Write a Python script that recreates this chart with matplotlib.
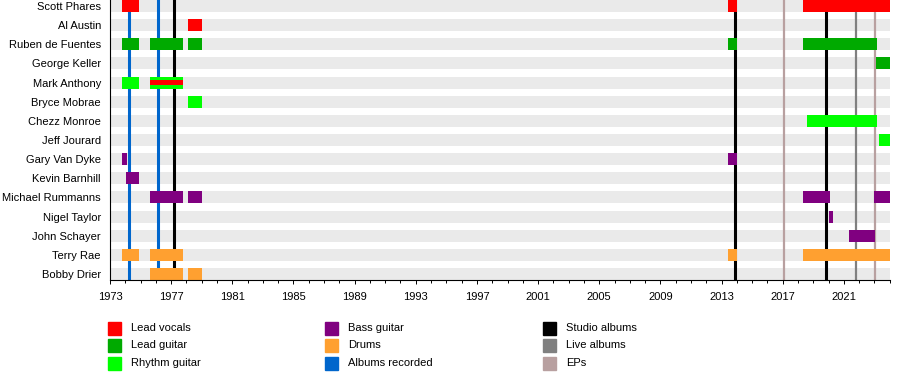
import matplotlib
matplotlib.use("Agg")
import matplotlib.pyplot as plt
from matplotlib.patches import Rectangle

plt.rcParams['font.family'] = ['Liberation Sans', 'DejaVu Sans']

members = ["Scott Phares", "Al Austin", "Ruben de Fuentes", "George Keller",
           "Mark Anthony", "Bryce Mobrae", "Chezz Monroe", "Jeff Jourard",
           "Gary Van Dyke", "Kevin Barnhill", "Michael Rummanns", "Nigel Taylor",
           "John Schayer", "Terry Rae", "Bobby Drier"]

start_year = 1973
end_year = 2024.05

# (member, start, end)
lead_vocals = [("Scott Phares", 1973.78, 1974.88), ("Scott Phares", 2013.44, 2014.03),
               ("Scott Phares", 2018.34, end_year), ("Al Austin", 1978.12, 1979.02)]
lead_guitar = [("Ruben de Fuentes", 1973.78, 1974.88), ("Ruben de Fuentes", 1975.62, 1977.75),
               ("Ruben de Fuentes", 1978.12, 1979.02), ("Ruben de Fuentes", 2013.44, 2014.03),
               ("Ruben de Fuentes", 2018.34, 2023.14), ("George Keller", 2023.10, end_year)]
rhythm_guitar = [("Mark Anthony", 1973.78, 1974.88), ("Mark Anthony", 1975.62, 1977.75),
                 ("Bryce Mobrae", 1978.12, 1979.02), ("Chezz Monroe", 2018.56, 2023.14),
                 ("Jeff Jourard", 2023.29, end_year)]
bass_guitar = [("Gary Van Dyke", 1973.78, 1974.11), ("Gary Van Dyke", 2013.44, 2014.03),
               ("Kevin Barnhill", 1974.05, 1974.88), ("Michael Rummanns", 1975.62, 1977.75),
               ("Michael Rummanns", 1978.12, 1979.02), ("Michael Rummanns", 2018.34, 2020.10),
               ("Michael Rummanns", 2022.97, end_year), ("Nigel Taylor", 2020.04, 2020.30),
               ("John Schayer", 2021.35, 2023.03)]
drums = [("Terry Rae", 1973.78, 1974.88), ("Terry Rae", 1975.62, 1977.75),
         ("Terry Rae", 2013.44, 2014.03), ("Terry Rae", 2018.34, end_year),
         ("Bobby Drier", 1975.62, 1977.75), ("Bobby Drier", 1978.12, 1979.02)]
# secondary role drawn as a thin stripe
lead_vocals_minor = [("Mark Anthony", 1975.62, 1977.75)]

albums_recorded = [1974.26, 1976.16]
studio_albums = [1977.19, 2013.88, 2019.81]
live_albums = [2021.79]
eps = [2017.10, 2023.03]

c_vocals = "#ff0000"
c_lead = "#00aa00"
c_rhythm = "#00ff00"
c_bass = "#800080"
c_drums = "#ffa030"
c_recorded = "#0066cc"
c_studio = "#000000"
c_live = "#808080"
c_ep = "#b8a0a0"

fig = plt.figure(figsize=(9, 3.8), dpi=100)
W, H = 900, 380
ax = fig.add_axes([110 / W, 1 - 280 / H, (890.5 - 110) / W, 280 / H])

row = {m: i for i, m in enumerate(members)}
bh = 0.63

# background bands
ax.barh(range(len(members)), end_year - start_year, left=start_year, height=bh,
        color="#eaeaea", zorder=0)

for xs, col, lw in [(albums_recorded, c_recorded, 2.2), (studio_albums, c_studio, 2.2),
                    (live_albums, c_live, 1.6), (eps, c_ep, 1.6)]:
    for x in xs:
        ax.axvline(x, color=col, lw=lw, zorder=1)

for data, col in [(lead_vocals, c_vocals), (lead_guitar, c_lead), (rhythm_guitar, c_rhythm),
                  (bass_guitar, c_bass), (drums, c_drums)]:
    for m, s, e in data:
        ax.barh(row[m], e - s, left=s, height=bh, color=col, zorder=2)

for m, s, e in lead_vocals_minor:
    ax.barh(row[m], e - s, left=s, height=0.22, color=c_vocals, zorder=3)

ax.set_ylim(len(members) - 1 + 0.315, -0.315)
ax.set_xlim(start_year, end_year)
ax.set_yticks(range(len(members)))
ax.set_yticklabels(members, fontsize=8)
ax.tick_params(axis='y', length=0, pad=6.5)
ax.set_xticks(range(1973, 2025, 4))
ax.set_xticks(range(1973, 2025), minor=True)
ax.tick_params(axis='x', which='major', length=3, width=0.7, labelsize=8, pad=6)
ax.tick_params(axis='x', which='minor', length=2.2, width=0.7)
for s in ['top', 'right']:
    ax.spines[s].set_visible(False)
for s in ['left', 'bottom']:
    ax.spines[s].set_linewidth(0.8)
    ax.spines[s].set_zorder(4)

legend_cols = [
    (108, [("Lead vocals", c_vocals), ("Lead guitar", c_lead), ("Rhythm guitar", c_rhythm)]),
    (325, [("Bass guitar", c_bass), ("Drums", c_drums), ("Albums recorded", c_recorded)]),
    (543, [("Studio albums", c_studio), ("Live albums", c_live), ("EPs", c_ep)]),
]
for x0, items in legend_cols:
    for k, (label, col) in enumerate(items):
        yc = 328 + k * 17.5
        fig.add_artist(Rectangle((x0 / W, 1 - (yc + 6.5) / H), 13 / W, 13 / H,
                                 transform=fig.transFigure, color=col))
        fig.text((x0 + 23) / W, 1 - yc / H, label, fontsize=8, va='center', ha='left')

fig.savefig("out.png", dpi=100)
